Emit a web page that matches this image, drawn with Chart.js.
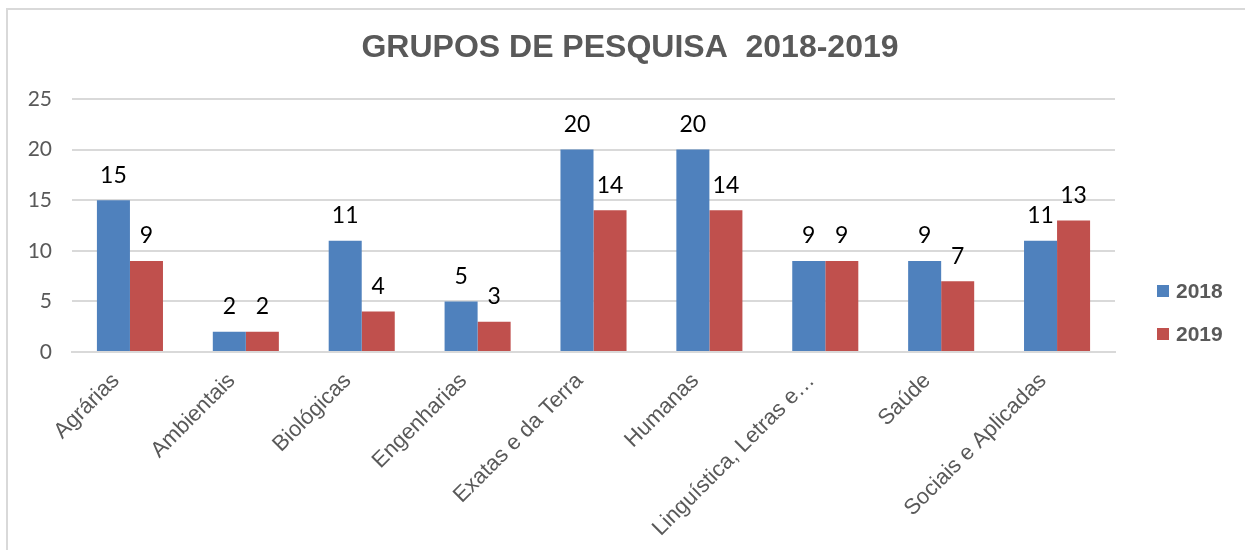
<!DOCTYPE html>
<html>
<head>
<meta charset="utf-8">
<script src="https://cdn.jsdelivr.net/npm/chart.js@4.4.1/dist/chart.umd.min.js"></script>
<style>
  html, body { margin: 0; padding: 0; background: #ffffff; }
  #wrap { position: relative; width: 1245px; height: 550px; overflow: hidden; }
  #frame { position: absolute; left: 6px; top: 8px; width: 1300px; height: 600px;
           border-left: 2px solid #d9d9d9; border-top: 2px solid #d9d9d9; box-sizing: border-box; }
  canvas { position: absolute; left: 0; top: 0; }
</style>
</head>
<body>
<div id="wrap">
  <div id="frame"></div>
  <canvas id="c" width="1245" height="550"></canvas>
</div>
<script>
const categories = ["Agrárias", "Ambientais", "Biológicas", "Engenharias", "Exatas e da Terra", "Humanas", "Linguística, Letras e…", "Saúde", "Sociais e Aplicadas"];
const seriesNames = ["2018", "2019"];
const values2018 = [15, 2, 11, 5, 20, 20, 9, 9, 11];
const values2019 = [9, 2, 4, 3, 14, 14, 9, 7, 13];
const yTicks = [0, 5, 10, 15, 20, 25];
const titleText = "GRUPOS DE PESQUISA  2018-2019";

const BLUE = "#4F81BD";
const RED = "#C0504D";

const dataLabels = {
  id: "dataLabels",
  afterDatasetsDraw(chart) {
    const ctx = chart.ctx;
    ctx.save();
    ctx.font = "23px Lato";
    ctx.fillStyle = "#000000";
    ctx.textAlign = "center";
    ctx.textBaseline = "middle";
    chart.data.datasets.forEach((ds, i) => {
      const meta = chart.getDatasetMeta(i);
      meta.data.forEach((el, j) => {
        ctx.fillText(String(ds.data[j]), el.x, el.y - 25);
      });
    });
    ctx.restore();
  }
};

const sideLegend = {
  id: "sideLegend",
  afterDraw(chart) {
    const ctx = chart.ctx;
    ctx.save();
    ctx.font = "bold 21px 'Liberation Sans'";
    ctx.textBaseline = "middle";
    ctx.textAlign = "left";
    const rows = [291, 334];
    chart.data.datasets.forEach((ds, i) => {
      const y = rows[i];
      ctx.fillStyle = ds.backgroundColor;
      ctx.fillRect(1157, y - 6, 12, 12);
      ctx.fillStyle = "#595959";
      ctx.fillText(ds.label, 1176, y + 1);
    });
    ctx.restore();
  }
};

const centeredTitle = {
  id: "centeredTitle",
  afterDraw(chart) {
    const ctx = chart.ctx;
    ctx.save();
    ctx.font = "bold 32px 'Liberation Sans'";
    ctx.fillStyle = "#595959";
    ctx.textAlign = "center";
    ctx.textBaseline = "middle";
    ctx.fillText(titleText, 630, 48);
    ctx.restore();
  }
};

new Chart(document.getElementById("c"), {
  type: "bar",
  data: {
    labels: categories,
    datasets: [
      { label: seriesNames[0], data: values2018, backgroundColor: BLUE },
      { label: seriesNames[1], data: values2019, backgroundColor: RED }
    ]
  },
  options: {
    responsive: false,
    animation: false,
    layout: { padding: { left: 10, right: 130, top: 99, bottom: 0 } },
    datasets: { bar: { categoryPercentage: 0.57, barPercentage: 1.0 } },
    plugins: {
      legend: { display: false },
      tooltip: { enabled: false },
      title: { display: false }
    },
    scales: {
      x: {
        grid: { display: false, drawTicks: false },
        border: { display: true, color: "#d9d9d9", width: 2 },
        ticks: {
          color: "#595959",
          font: { family: "'Liberation Sans'", size: 22 },
          maxRotation: 45, minRotation: 45,
          padding: 16,
          labelOffset: -14,
          autoSkip: false
        },
        afterFit(scale) { scale.height = 198; }
      },
      y: {
        min: 0, max: 25,
        afterBuildTicks(scale) { scale.ticks = yTicks.map(v => ({ value: v })); },
        grid: { color: "#d9d9d9", lineWidth: 2, drawTicks: false },
        border: { display: false },
        ticks: {
          color: "#595959",
          font: { family: "Lato", size: 21 },
          padding: 20
        },
        afterFit(scale) { scale.width = 62; }
      }
    }
  },
  plugins: [dataLabels, sideLegend, centeredTitle]
});
</script>
</body>
</html>
